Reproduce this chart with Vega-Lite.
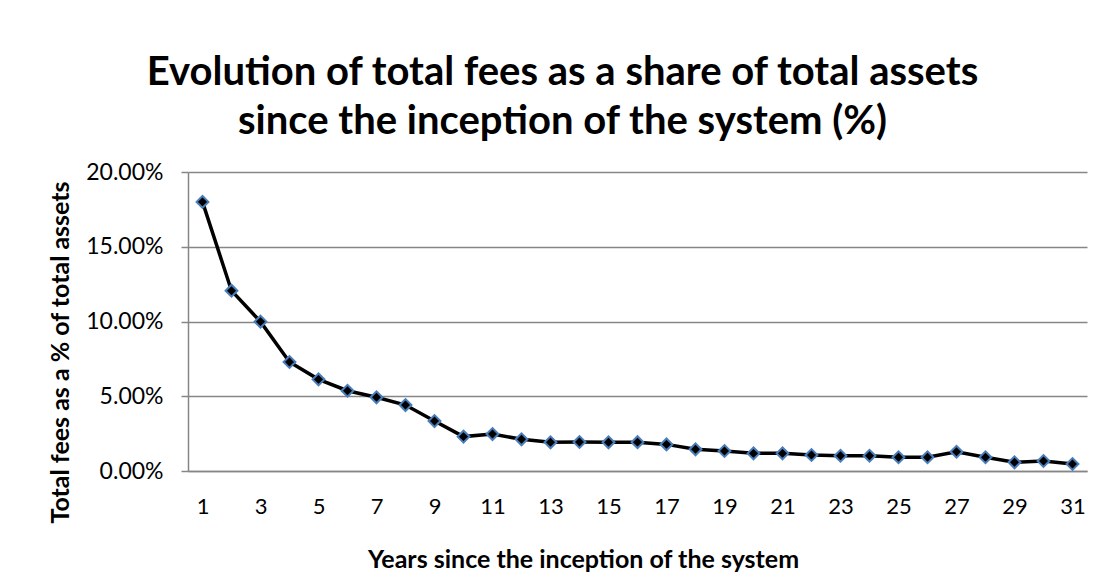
{
  "$schema": "https://vega.github.io/schema/vega-lite/v6.json",
  "autosize": "none",
  "width": 899,
  "height": 299,
  "padding": {"left": 188, "top": 172, "right": 17, "bottom": 116},
  "background": "white",
  "config": {"view": {"stroke": null}, "font": "Lato"},
  "title": {
    "text": ["Evolution of total fees as a share of total assets", "since the inception of the system (%)"],
    "font": "Lato",
    "fontSize": 40,
    "fontWeight": "bold",
    "color": "#000000",
    "anchor": "middle",
    "frame": "group",
    "dx": -75,
    "offset": 19,
    "lineHeight": 49
  },
  "data": {
    "values": [
      {"year": 1, "fee": 0.1800},
      {"year": 2, "fee": 0.1206},
      {"year": 3, "fee": 0.0999},
      {"year": 4, "fee": 0.0729},
      {"year": 5, "fee": 0.0613},
      {"year": 6, "fee": 0.0537},
      {"year": 7, "fee": 0.0493},
      {"year": 8, "fee": 0.0441},
      {"year": 9, "fee": 0.0334},
      {"year": 10, "fee": 0.0230},
      {"year": 11, "fee": 0.0247},
      {"year": 12, "fee": 0.0212},
      {"year": 13, "fee": 0.0192},
      {"year": 14, "fee": 0.0194},
      {"year": 15, "fee": 0.0192},
      {"year": 16, "fee": 0.0193},
      {"year": 17, "fee": 0.0178},
      {"year": 18, "fee": 0.0145},
      {"year": 19, "fee": 0.0134},
      {"year": 20, "fee": 0.0118},
      {"year": 21, "fee": 0.0118},
      {"year": 22, "fee": 0.0107},
      {"year": 23, "fee": 0.0102},
      {"year": 24, "fee": 0.0102},
      {"year": 25, "fee": 0.0092},
      {"year": 26, "fee": 0.0092},
      {"year": 27, "fee": 0.0129},
      {"year": 28, "fee": 0.0092},
      {"year": 29, "fee": 0.0058},
      {"year": 30, "fee": 0.0067},
      {"year": 31, "fee": 0.0047}
    ]
  },
  "encoding": {
    "x": {
      "field": "year",
      "type": "ordinal",
      "scale": {"paddingInner": 0, "paddingOuter": 0},
      "axis": {
        "title": "Years since the inception of the system",
        "titleFont": "Lato",
        "titleFontSize": 25,
        "titleFontWeight": "bold",
        "titleColor": "#000000",
        "titleX": 395,
        "titleBaseline": "alphabetic",
        "titleY": 96,
        "values": [1,3,5,7,9,11,13,15,17,19,21,23,25,27,29,31],
        "labelAngle": 0,
        "labelFont": "Lato",
        "labelFontSize": 22,
        "labelColor": "#000000",
        "labelPadding": 25,
        "ticks": false,
        "domainColor": "#868686",
        "domainWidth": 1.5,
        "grid": false
      }
    },
    "y": {
      "field": "fee",
      "type": "quantitative",
      "scale": {"domain": [0, 0.2], "nice": false},
      "axis": {
        "title": "Total fees as a % of total assets",
        "titleFont": "Lato",
        "titleFontSize": 25,
        "titleFontWeight": "bold",
        "titleColor": "#000000",
        "titlePadding": 12,
        "titleY": 180,
        "format": ".2%",
        "values": [0, 0.05, 0.1, 0.15, 0.2],
        "labelFont": "Lato",
        "labelFontSize": 23,
        "labelColor": "#000000",
        "labelPadding": 18,
        "tickSize": 7,
        "tickColor": "#868686",
        "tickWidth": 1.5,
        "domainColor": "#868686",
        "domainWidth": 1.5,
        "grid": true,
        "gridColor": "#868686",
        "gridWidth": 1.5
      }
    }
  },
  "layer": [
    {"mark": {"type": "line", "color": "#000000", "strokeWidth": 3.5}},
    {"mark": {"type": "point", "shape": "diamond", "filled": true, "fill": "#000000", "stroke": "#4a7ebb", "strokeWidth": 2, "size": 140, "opacity": 1}}
  ]
}
